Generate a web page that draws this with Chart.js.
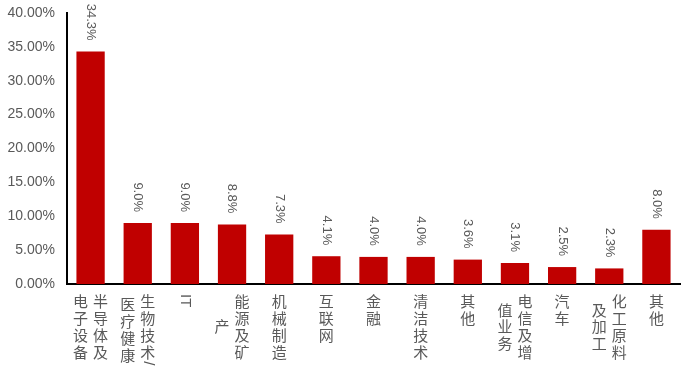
<!DOCTYPE html>
<html><head><meta charset="utf-8">
<script src="https://cdn.jsdelivr.net/npm/chart.js@4/dist/chart.umd.min.js"></script>
<style>html,body{margin:0;padding:0;background:#fff}#wrap{width:681px;height:372px}</style>
</head><body><div id="wrap"><canvas id="c" width="681" height="372"></canvas></div>
<script>
// Category labels: each entry is a list of vertical columns (first column drawn rightmost)
const categories = [
  ['半导体及','电子设备'],
  ['生物技术/','医疗健康'],
  ['IT'],
  ['能源及矿','产'],
  ['机械制造'],
  ['互联网'],
  ['金融'],
  ['清洁技术'],
  ['其他'],
  ['电信及增','值业务'],
  ['汽车'],
  ['化工原料','及加工'],
  ['其他']
];
const values = [34.3, 9.0, 9.0, 8.8, 7.3, 4.1, 4.0, 4.0, 3.6, 3.1, 2.5, 2.3, 8.0];
const valueLabels = ['34.3%','9.0%','9.0%','8.8%','7.3%','4.1%','4.0%','4.0%','3.6%','3.1%','2.5%','2.3%','8.0%'];
const yMin = 0, yMax = 40, yStep = 5;

const GRAY = '#595959';
const CJK_FONT = '15px "Noto Sans CJK SC"';
const LATIN_FONT = '15px "Liberation Sans"';

function isCJK(ch){ return /[\u3000-\u9fff\uff00-\uffef]/.test(ch); }
function splitRuns(s){
  const runs=[]; let cur='';
  for(const ch of s){
    if(isCJK(ch)){ if(cur){runs.push({t:cur,cjk:false});cur='';} runs.push({t:ch,cjk:true}); }
    else cur+=ch;
  }
  if(cur) runs.push({t:cur,cjk:false});
  return runs;
}
const STEP = 16.8;
function colLength(ctx, s){
  let len=0;
  for(const r of splitRuns(s)){
    if(r.cjk) len+=STEP; else { ctx.font=LATIN_FONT; len+=ctx.measureText(r.t).width+2; }
  }
  return len;
}
function drawColumn(ctx, s, x, y){
  for(const r of splitRuns(s)){
    if(r.cjk){
      ctx.font=CJK_FONT; ctx.textAlign='center'; ctx.textBaseline='middle';
      ctx.fillText(r.t, x, y+STEP/2); y+=STEP;
    } else {
      ctx.font=LATIN_FONT;
      const w=ctx.measureText(r.t).width;
      ctx.save(); ctx.translate(x, y+1); ctx.rotate(Math.PI/2);
      ctx.textAlign='left'; ctx.textBaseline='middle';
      ctx.fillText(r.t, 0, 0); ctx.restore();
      y+=w+2;
    }
  }
}

const xLabelPlugin = {
  id:'xlabels',
  afterDraw(chart){
    const ctx=chart.ctx, xs=chart.scales.x;
    const top = chart.scales.y.bottom + 9;
    ctx.save(); ctx.fillStyle=GRAY;
    chart.data.labels.forEach((lab,i)=>{
      const lines = Array.isArray(lab)?lab:[lab];
      const cx = xs.getPixelForTick(i);
      const lens = lines.map(l=>colLength(ctx,l));
      const maxLen = Math.max(...lens);
      const n = lines.length;
      lines.forEach((line,j)=>{
        const x = cx + ((n-1)/2 - j)*20;
        drawColumn(ctx, line, x, top + (maxLen-lens[j])/2);
      });
    });
    ctx.restore();
  }
};

const valueLabelPlugin = {
  id:'vlabels',
  afterDatasetsDraw(chart){
    const ctx=chart.ctx, meta=chart.getDatasetMeta(0);
    ctx.save(); ctx.fillStyle=GRAY; ctx.font='13px "Liberation Sans"';
    meta.data.forEach((bar,i)=>{
      ctx.save();
      ctx.translate(bar.x, bar.y - 11);
      ctx.rotate(Math.PI/2);
      ctx.textAlign='right'; ctx.textBaseline='middle';
      ctx.fillText(valueLabels[i], 0, 0);
      ctx.restore();
    });
    ctx.restore();
  }
};

new Chart(document.getElementById('c'), {
  type:'bar',
  data:{ labels:categories, datasets:[{ data:values, backgroundColor:'#C00000', borderWidth:0, barPercentage:0.6, categoryPercentage:1 }]},
  options:{
    responsive:false, animation:false, devicePixelRatio:1,
    layout:{ padding:{ top:13, right:1, left:0, bottom:0 } },
    plugins:{ legend:{display:false}, tooltip:{enabled:false} },
    scales:{
      x:{
        grid:{ display:false, drawTicks:false },
        border:{ display:true, color:'#000', width:2 },
        ticks:{ display:false },
        afterFit(s){ s.height = 88; s.paddingLeft = 0; s.paddingRight = 0; }
      },
      y:{
        min:yMin, max:yMax,
        grid:{ display:false, drawTicks:false },
        border:{ display:true, color:'#000', width:2 },
        ticks:{ stepSize:yStep, padding:12, color:GRAY, font:{ family:'Liberation Sans', size:14 },
          callback:v=>v.toFixed(2)+'%' },
        afterFit(s){ s.width = 67; s.paddingTop = 0; s.paddingBottom = 0; }
      }
    }
  },
  plugins:[xLabelPlugin, valueLabelPlugin]
});
</script></body></html>
